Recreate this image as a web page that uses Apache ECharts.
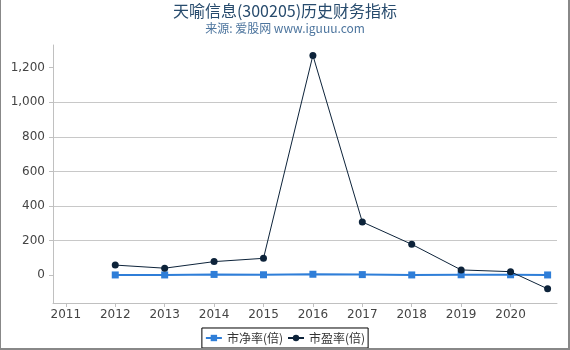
<!DOCTYPE html>
<html>
<head>
<meta charset="utf-8">
<script src="https://cdn.jsdelivr.net/npm/echarts@6/dist/echarts.min.js"></script>
<style>
html,body{margin:0;padding:0;background:#fff;}
#wrap{position:relative;width:570px;height:350px;}
#chart{position:absolute;left:0;top:0;width:570px;height:350px;}
#frame{position:absolute;left:0;top:0;width:570px;height:350px;box-sizing:border-box;border-left:1px solid #888;border-right:2px solid #888;border-bottom:2px solid #888;pointer-events:none;}
</style>
</head>
<body>
<div id="wrap"><div id="chart"></div><div id="frame"></div></div>
<script>
var titleText = '天喻信息(300205)历史财务指标';
var subText = '来源: 爱股网 www.iguuu.com';
var xPositions = [2012, 2013, 2014, 2015, 2016, 2017, 2018, 2019, 2020, 2020.75];
var pbName = '市净率(倍)';
var peName = '市盈率(倍)';
var pbValues = [2, 2, 5, 3, 6, 4, 2, 3, 3, 2];
var peValues = [59, 41, 79, 98, 1270, 308, 179, 31, 21, -78];
var xTickLabels = [2011, 2012, 2013, 2014, 2015, 2016, 2017, 2018, 2019, 2020];
var yTickLabels = [0, 200, 400, 600, 800, 1000, 1200];

function pairs(xs, ys){ return xs.map(function(x,i){ return [x, ys[i]]; }); }

var chart = echarts.init(document.getElementById('chart'), null, {renderer:'canvas'});
chart.setOption({
  animation: false,
  backgroundColor: '#fff',
  title: {
    text: titleText,
    subtext: subText,
    left: 'center',
    top: -2,
    itemGap: 3,
    textStyle: {fontSize: 16, fontWeight: 'normal', color: '#274b6d', fontFamily: 'Noto Sans CJK SC, DejaVu Sans, sans-serif'},
    subtextStyle: {fontSize: 12, color: '#4d759e', fontFamily: 'Noto Sans CJK SC, DejaVu Sans, sans-serif'}
  },
  legend: {
    bottom: 2,
    left: 'center',
    padding: [4, 3],
    borderColor: '#000',
    borderWidth: 1,
    itemGap: 4,
    itemWidth: 16,
    itemHeight: 8,
    textStyle: {fontSize: 12, color: '#333', fontFamily: 'Noto Sans CJK SC, DejaVu Sans, sans-serif'},
    data: [pbName, peName]
  },
  grid: {left: 53, right: 13, top: 45, bottom: 47, containLabel: false},
  xAxis: {
    type: 'value',
    min: 2010.74,
    max: 2020.94,
    splitNumber: 10,
    splitLine: {show: false},
    axisLine: {show: true, onZero: false, lineStyle: {color: '#c0c0c0', width: 1}},
    axisTick: {show: true, length: 4, lineStyle: {color: '#c0c0c0'}, customValues: xTickLabels},
    axisLabel: {
      customValues: xTickLabels,
      formatter: function(v){ return String(Math.round(v)); },
      color: '#444', fontSize: 12, fontFamily: 'DejaVu Sans, sans-serif', margin: 6
    }
  },
  yAxis: {
    type: 'value',
    min: -160,
    max: 1330,
    splitNumber: 7,
    axisLine: {show: true, lineStyle: {color: '#c0c0c0', width: 1}},
    axisTick: {show: true, length: 4, lineStyle: {color: '#c0c0c0'}, customValues: yTickLabels},
    axisLabel: {
      customValues: yTickLabels,
      color: '#444', fontSize: 12, fontFamily: 'DejaVu Sans, sans-serif', margin: 8
    },
    splitLine: {show: true, showMinLine: false, showMaxLine: false, lineStyle: {color: '#c8c8c8', width: 1}}
  },
  series: [
    {
      name: pbName,
      type: 'line',
      data: pairs(xPositions, pbValues),
      symbol: 'rect',
      symbolSize: 7,
      itemStyle: {color: '#2f7ed8'},
      lineStyle: {color: '#2f7ed8', width: 2},
      z: 2
    },
    {
      name: peName,
      type: 'line',
      data: pairs(xPositions, peValues),
      symbol: 'circle',
      symbolSize: 7,
      itemStyle: {color: '#0d233a'},
      lineStyle: {color: '#0d233a', width: 1},
      z: 3
    }
  ]
});
</script>
</body>
</html>
